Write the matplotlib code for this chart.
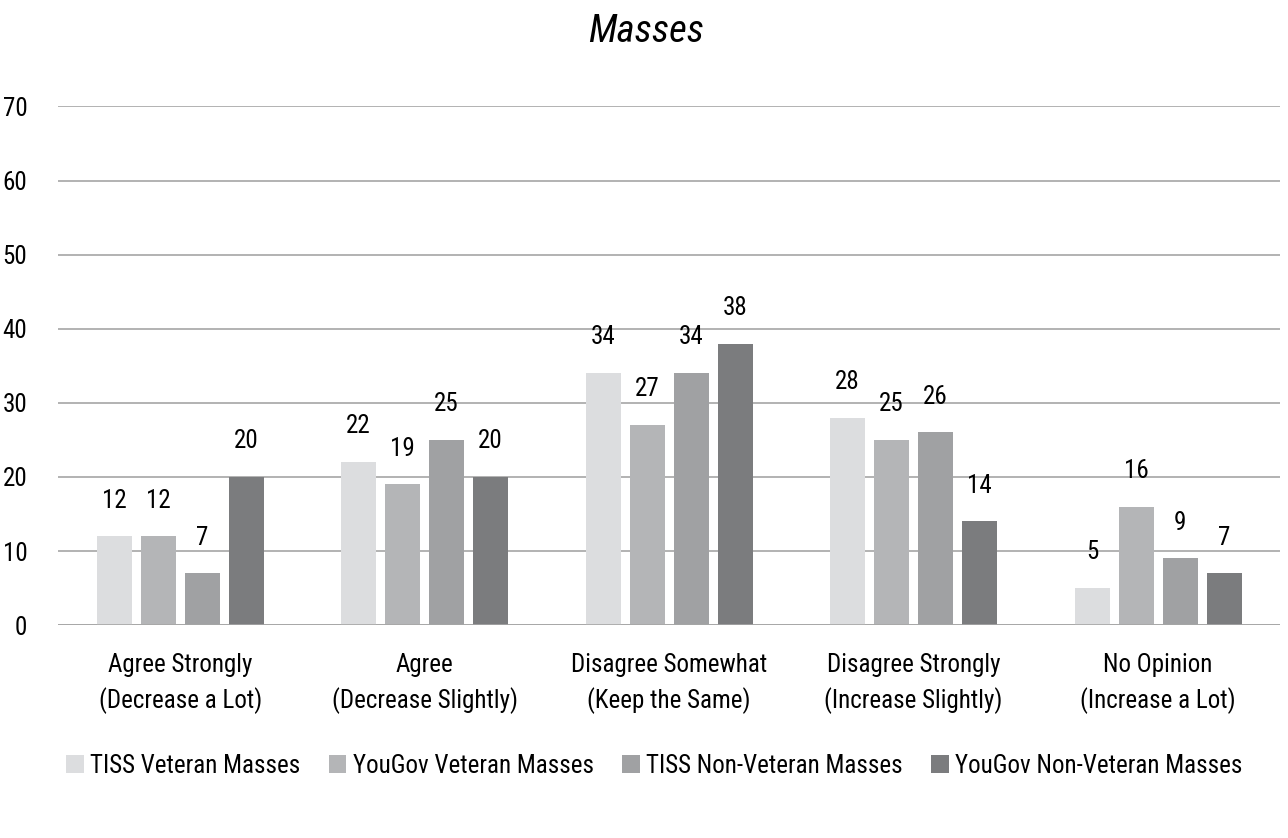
import matplotlib
matplotlib.use("Agg")
import matplotlib.pyplot as plt
import numpy as np

plt.rcParams["font.family"] = ["Roboto Condensed", "DejaVu Sans"]

categories = ["Agree Strongly\n(Decrease a Lot)", "Agree\n(Decrease Slightly)",
              "Disagree Somewhat\n(Keep the Same)", "Disagree Strongly\n(Increase Slightly)",
              "No Opinion\n(Increase a Lot)"]
series = ["TISS Veteran Masses", "YouGov Veteran Masses",
          "TISS Non-Veteran Masses", "YouGov Non-Veteran Masses"]
tiss_vet = [12, 22, 34, 28, 5]
yougov_vet = [12, 19, 27, 25, 16]
tiss_nonvet = [7, 25, 34, 26, 9]
yougov_nonvet = [20, 20, 38, 14, 7]
values = [tiss_vet, yougov_vet, tiss_nonvet, yougov_nonvet]
colors = ["#dcdddf", "#b4b5b7", "#a0a1a3", "#7b7c7e"]

fig = plt.figure(figsize=(12.88, 8.38), dpi=100)
ax = fig.add_axes([0.045, 0.254, 0.949, 0.619])

x = np.arange(len(categories))
w = 0.143
step = 0.18
for i, (name, vals) in enumerate(zip(series, values)):
    pos = x + (i - 1.5) * step
    ax.bar(pos, vals, w, color=colors[i], label=name, zorder=3)
    for p, v in zip(pos, vals):
        ax.text(p, v + 3.2, str(v), ha="center", va="bottom", fontsize=18)

ax.set_xlim(-0.5, 4.5)
ax.set_ylim(0, 70)
ax.set_yticks(range(0, 71, 10))
ax.yaxis.grid(True, color="#a6a6a6", linewidth=1.2, zorder=0)
ax.set_xticks(x)
ax.set_xticklabels(categories, fontsize=18, linespacing=1.5)
ax.tick_params(axis="both", length=0, labelsize=18)
ax.tick_params(axis="x", pad=20)
ax.tick_params(axis="y", pad=22)
for s in ["top", "right", "left", "bottom"]:
    ax.spines[s].set_visible(False)
ax.axhline(0, color="#a6a6a6", linewidth=1.2, zorder=4)

fig.text(0.502, 0.962, "Masses", ha="center", va="center", fontsize=28, style="italic")
fig.legend(loc="center", bbox_to_anchor=(0.508, 0.086), ncol=4, frameon=False,
           fontsize=18, handlelength=0.7, handleheight=0.7, handletextpad=0.25,
           columnspacing=1.15)

fig.savefig("out.png", dpi=100)
